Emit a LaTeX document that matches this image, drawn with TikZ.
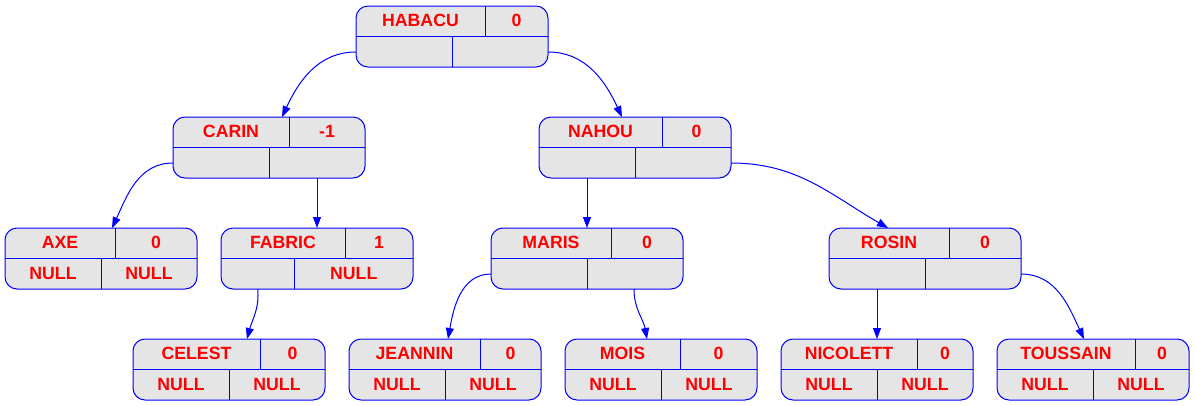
\documentclass[tikz,border=0pt]{standalone}
\usepackage{fontspec}
\setmainfont{Liberation Sans}
\usetikzlibrary{arrows.meta}
\definecolor{recfill}{HTML}{E5E5E5}
\definecolor{recblue}{HTML}{0000FF}
\definecolor{rectext}{HTML}{FF0000}
\tikzset{
  rec/.style={draw=recblue, fill=recfill, line width=1pt, rounded corners=12pt,
    minimum width=192pt, minimum height=61pt, inner sep=0pt, outer sep=0pt},
  div/.style={draw=recblue, line width=1pt},
  txt/.style={text=rectext, font=\fontsize{17.7}{20}\selectfont\bfseries, anchor=base, inner sep=0pt},
  edge/.style={draw=recblue, line width=1pt, -{Triangle[length=11pt,width=8pt]}}
}
% #1 name, #2 centre x, #3 top y, #4 top divider x, #5 label, #6 balance, #7 left, #8 right, #9 bottom divider x
\newcommand\recnode[9]{%
  \node[rec] (#1) at (#2,-#3-30.5) {};
  \draw[div] (#2-96,-#3-30) -- (#2+96,-#3-30);
  \draw[div] (#4,-#3) -- (#4,-#3-30);
  \draw[div] (#9,-#3-30) -- (#9,-#3-61);
  \node[txt] (#1-name) at ({(#2-96+#4)/2},-#3-20.5) {#5};
  \node[txt] (#1-bal) at ({(#2+96+#4)/2},-#3-20.5) {#6};
  \node[txt] (#1-left) at ({(#2-96+#9)/2},-#3-51) {#7};
  \node[txt] (#1-right) at ({(#2+96+#9)/2},-#3-51) {#8};
  \coordinate (#1-l) at (#2-96,-#3-46);
  \coordinate (#1-r) at (#2+96,-#3-46);
  \coordinate (#1-bl) at ({(#2-96+#9)/2},-#3-61);
  \coordinate (#1-br) at ({(#2+96+#9)/2},-#3-61);
}
\begin{document}
\begin{tikzpicture}[x=1pt,y=1pt]
\useasboundingbox (0,0) rectangle (1195,-405);
\recnode{habacu}{452}{6}{485}{HABACU}{0}{}{}{452}
\recnode{carin}{269}{117}{289}{CARIN}{-1}{}{}{269}
\recnode{nahou}{635}{117}{662}{NAHOU}{0}{}{}{635}
\recnode{axe}{101}{228}{115}{AXE}{0}{NULL}{NULL}{101}
\recnode{fabric}{317}{228}{345}{FABRIC}{1}{}{NULL}{294.5}
\recnode{maris}{587}{228}{611}{MARIS}{0}{}{}{587}
\recnode{rosin}{925}{228}{949}{ROSIN}{0}{}{}{925}
\recnode{celest}{229}{339}{260}{CELEST}{0}{NULL}{NULL}{229}
\recnode{jeannin}{445}{339}{480}{JEANNIN}{0}{NULL}{NULL}{445}
\recnode{mois}{661}{339}{680}{MOIS}{0}{NULL}{NULL}{661}
\recnode{nicolett}{877}{339}{917}{NICOLETT}{0}{NULL}{NULL}{877}
\recnode{toussain}{1093}{339}{1135}{TOUSSAIN}{0}{NULL}{NULL}{1093}

\draw[edge] (habacu-l) to[out=180,in=65] ([xshift=13pt]carin.north);
\draw[edge] (habacu-r) to[out=0,in=115] ([xshift=-13pt]nahou.north);
\draw[edge] (carin-l) to[out=180,in=65] ([xshift=11pt]axe.north);
\draw[edge] (carin-br) -- (fabric.north);
\draw[edge] (nahou-bl) -- (maris.north);
\draw[edge] (nahou-r) to[out=0,in=150] ([xshift=-37pt]rosin.north);
\draw[edge] (fabric-bl) to[out=-85,in=75] ([xshift=18pt]celest.north);
\draw[edge] (maris-l) to[out=180,in=80] ([xshift=3pt]jeannin.north);
\draw[edge] ([xshift=-1pt]maris-br) to[out=-90,in=100] ([xshift=-14pt]mois.north);
\draw[edge] (rosin-bl) -- (nicolett.north);
\draw[edge] (rosin-r) to[out=0,in=115] ([xshift=-9pt]toussain.north);
\end{tikzpicture}
\end{document}
